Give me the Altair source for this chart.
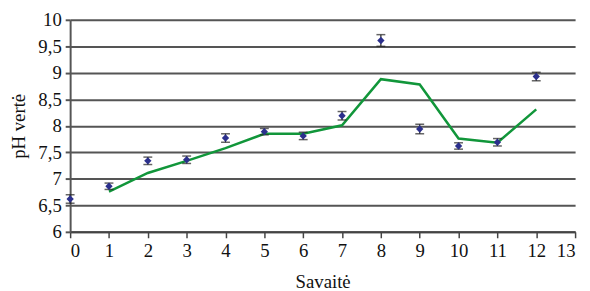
import altair as alt
import pandas as pd

weeks = [0, 1, 2, 3, 4, 5, 6, 7, 8, 9, 10, 11, 12]
ph_mean = [6.62, 6.86, 7.34, 7.36, 7.77, 7.89, 7.81, 8.19, 9.61, 7.94, 7.62, 7.69, 8.93]
ph_err = [0.08, 0.06, 0.07, 0.07, 0.08, 0.06, 0.07, 0.08, 0.11, 0.09, 0.06, 0.07, 0.08]

trend_weeks = [1, 2, 3, 4, 5, 6, 7, 8, 9, 10, 11, 12]
trend_vals = [6.76, 7.11, 7.34, 7.58, 7.85, 7.85, 8.01, 8.88, 8.78, 7.76, 7.68, 8.31]

x_ticks = list(range(0, 14))
y_ticks = [6, 6.5, 7, 7.5, 8, 8.5, 9, 9.5, 10]

pts = pd.DataFrame({"w": weeks, "ph": ph_mean, "err": ph_err})
pts["lo"] = pts["ph"] - pts["err"]
pts["hi"] = pts["ph"] + pts["err"]
trend = pd.DataFrame({"w": trend_weeks, "v": trend_vals})

FONT = "Times New Roman, Liberation Serif, serif"

xscale = alt.Scale(domain=[0, 13], nice=False, zero=False)
yscale = alt.Scale(domain=[6, 10], nice=False, zero=False)

xaxis = alt.Axis(values=x_ticks, title="Savaitė", grid=False, labelOverlap=False,
                 tickSize=6, tickColor="#444", tickWidth=1.5,
                 domainColor="#444", domainWidth=2,
                 labelFont=FONT, labelFontSize=19, labelColor="#111", labelPadding=4,
                 titleFont=FONT, titleFontSize=19, titleFontWeight="normal",
                 titleColor="#111", titlePadding=12)
yaxis = alt.Axis(values=y_ticks, title="pH vertė", labelOverlap=False,
                 labelExpr="replace(format(datum.value, ''), '.', ',')",
                 grid=True, gridColor="#555", gridWidth=2,
                 tickSize=5, tickColor="#555", tickWidth=2,
                 domainColor="#555", domainWidth=2,
                 labelFont=FONT, labelFontSize=19, labelColor="#111", labelPadding=4,
                 titleFont=FONT, titleFontSize=19, titleFontWeight="normal",
                 titleColor="#111", titlePadding=10)


def X(field):
    return alt.X(field, type="quantitative", scale=xscale, axis=xaxis)


def Y(field):
    return alt.Y(field, type="quantitative", scale=yscale, axis=yaxis)


base = alt.Chart(pts)

bars = base.mark_rule(color="#222", strokeWidth=1.2).encode(
    x=X("w"), y=Y("lo"), y2="hi")
cap_lo = base.mark_tick(color="#222", thickness=1.5, size=9, orient="horizontal").encode(
    x=X("w"), y=Y("lo"))
cap_hi = base.mark_tick(color="#222", thickness=1.5, size=9, orient="horizontal").encode(
    x=X("w"), y=Y("hi"))
points = base.mark_point(shape="diamond", filled=True, color="#2b2f8c", size=55, opacity=1).encode(
    x=X("w"), y=Y("ph"))

line = alt.Chart(trend).mark_line(color="#11963a", strokeWidth=2.5).encode(
    x=X("w"), y=Y("v"))

chart = alt.layer(bars, line, cap_lo, cap_hi, points).properties(
    width=512, height=215,
    autosize=alt.AutoSizeParams(type="none"),
    padding={"left": 63, "top": 10, "right": 7, "bottom": 58},
    background="white",
).configure_view(stroke=None)

chart.save("out.html", embed_options={"renderer": "svg", "actions": False})
